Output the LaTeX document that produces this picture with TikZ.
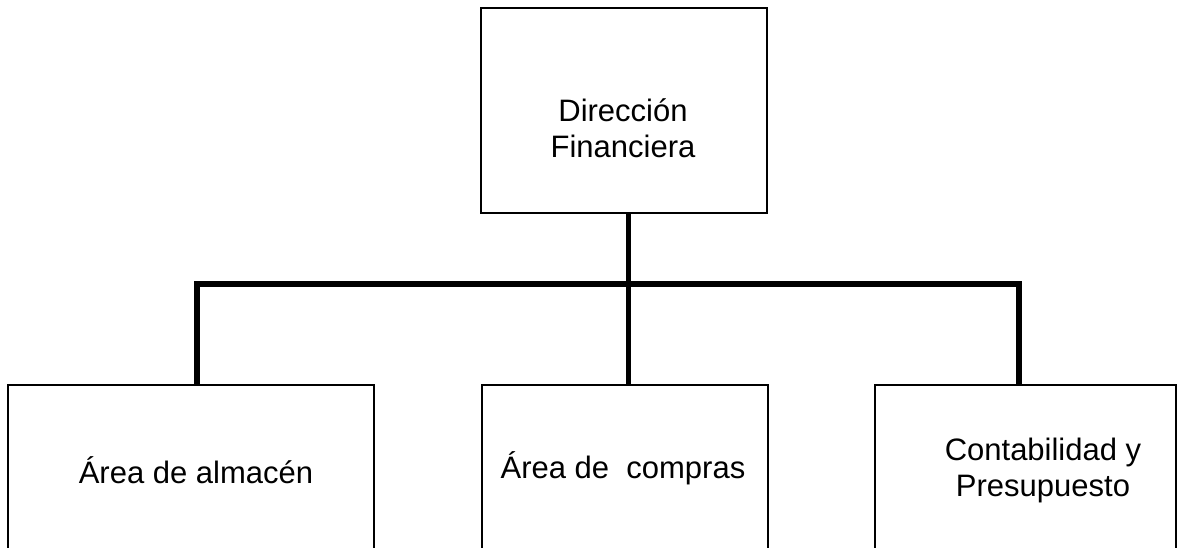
\documentclass[tikz,border=0pt]{standalone}
\usepackage{fontspec}
\setmainfont{Liberation Sans}
\begin{document}
\begin{tikzpicture}[x=1pt,y=-1pt,
  box/.style={draw=black,line width=2pt,fill=white,inner sep=0pt,anchor=north west},
  lbl/.style={align=center,font=\fontsize{31}{36}\selectfont,inner sep=0pt},
  thick line/.style={line width=5pt},
  barline/.style={line width=6pt,line join=miter}]
\useasboundingbox (0,0) rectangle (1178,548);
\clip (0,0) rectangle (1178,548);
% boxes
\node[box,minimum width=286pt,minimum height=205pt] (top) at (480,7) {};
\node[box,minimum width=366pt,minimum height=180pt] (left) at (7,384) {};
\node[box,minimum width=286pt,minimum height=180pt] (mid) at (481,384) {};
\node[box,minimum width=301pt,minimum height=180pt] (right) at (874,384) {};
% labels
\node[lbl] (ttop) at (623,128) {Dirección\\Financiera};
\node[lbl] (tleft) at (196,470) {Área de almacén};
\node[lbl] (tmid) at (623,468) {Área de\ \ compras};
\node[lbl] (tright) at (1043,470) {Contabilidad y\\Presupuesto};
% connectors
\coordinate (hub) at (628,284);
\coordinate (jl) at (197,284);
\coordinate (jr) at (1019,284);
\draw[thick line] (top.south -| hub) -- (mid.north -| hub);
\draw[barline] (jl |- left.north) -- (jl) -- (jr) -- (jr |- right.north);
\end{tikzpicture}
\end{document}
